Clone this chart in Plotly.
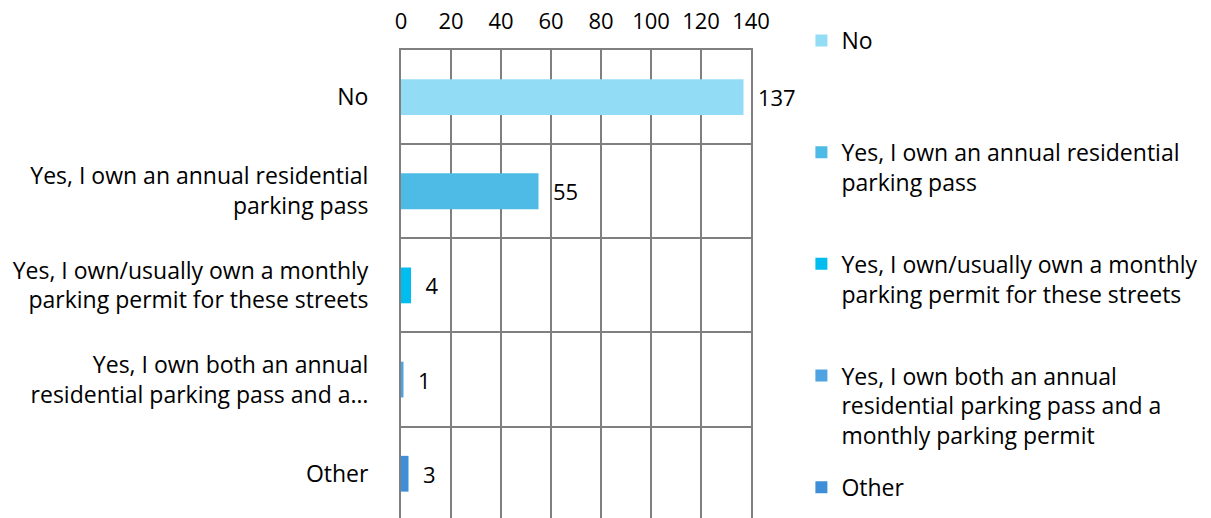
import plotly.graph_objects as go

categories = [
    "No",
    "Yes, I own an annual residential<br>parking pass",
    "Yes, I own/usually own a monthly<br>parking permit for these streets",
    "Yes, I own both an annual<br>residential parking pass and a…",
    "Other",
]
legend_names = [
    "No",
    "Yes, I own an annual residential<br>parking pass",
    "Yes, I own/usually own a monthly<br>parking permit for these streets",
    "Yes, I own both an annual<br>residential parking pass and a<br>monthly parking permit",
    "Other",
]
values = [137, 55, 4, 1, 3]
colors = ["#93DCF6", "#4DBBE6", "#00BDF0", "#4FA3E0", "#3E8ED8"]
x_ticks = [0, 20, 40, 60, 80, 100, 120, 140]

FONT = "Open Sans"
FS = 23      # category / legend text
FS_NUM = 22  # numbers
W, H = 1211, 518

fig = go.Figure()
n = len(categories)
for i, (cat, name, v, c) in enumerate(zip(categories, legend_names, values, colors)):
    nlines = name.count("<br>") + 1
    padded = name if i == n - 1 else name + "<br> " * (3 - nlines)
    fig.add_trace(go.Bar(
        y=[cat], x=[v], orientation="h", name=padded,
        marker=dict(color=c, line=dict(width=0)),
        width=0.38, text=["\u00a0\u00a0" + str(v)], textposition="outside",
        textfont=dict(size=FS_NUM, color="#000000", family=FONT),
        cliponaxis=False, legendgroup=f"g{i}",
    ))

fig.update_layout(
    width=W, height=H,
    margin=dict(l=401, r=W - 401 - 350, t=50, b=0, autoexpand=False),
    paper_bgcolor="white", plot_bgcolor="white",
    barmode="overlay",
    font=dict(family=FONT, size=FS, color="#000000"),
    showlegend=True,
    legend=dict(
        x=1.144, y=1 - 19 / H, xref="paper", yref="container",
        xanchor="left", yanchor="top",
        valign="top", tracegroupgap=19, maxheight=1.0,
        font=dict(family=FONT, size=FS, color="#000000"),
        itemwidth=30,
    ),
    xaxis=dict(
        side="top", range=[0, 140], tickvals=x_ticks, automargin=False,
        showgrid=True, gridcolor="#7f7f7f", gridwidth=2,
        showline=True, linecolor="#7f7f7f", linewidth=2, mirror=True,
        ticks="", ticklabelstandoff=10, zeroline=False,
        tickfont=dict(size=FS_NUM),
    ),
    yaxis=dict(
        categoryorder="array", categoryarray=categories, automargin=False,
        range=[4.47, -0.5], tickson="boundaries",
        showgrid=True, gridcolor="#7f7f7f", gridwidth=2,
        showline=True, linecolor="#7f7f7f", linewidth=2, mirror=True,
        ticks="", ticklabelstandoff=26,
        tickfont=dict(size=FS),
    ),
)

fig.write_html(
    "out.html",
    config={"displayModeBar": False},
    post_script="document.body.style.margin='0';",
)
